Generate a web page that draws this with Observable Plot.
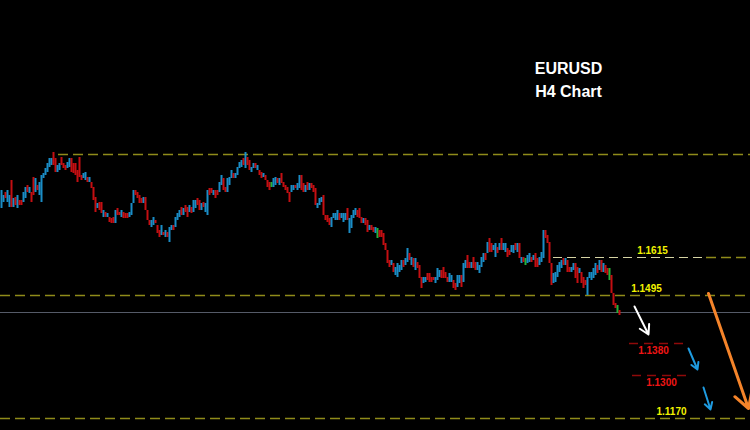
<!DOCTYPE html>
<html><head><meta charset="utf-8">
<script src="https://cdn.jsdelivr.net/npm/d3@7"></script>
<script src="https://cdn.jsdelivr.net/npm/@observablehq/plot@0.6"></script>
<style>html,body{margin:0;padding:0;background:#000;}#chart{width:750px;height:430px;overflow:hidden;}</style>
</head><body><div id="chart"></div>
<script>
// H4 candle ranges (high / low), oldest first
const highs = [
1.1816,1.1801,1.1810,1.1816,1.1801,1.1846,1.1792,1.1795,1.1801,1.1786,
1.1786,1.1810,1.1825,1.1831,1.1825,1.1810,1.1855,1.1852,1.1831,1.1840,
1.1861,1.1867,1.1882,1.1897,1.1912,1.1912,1.1930,1.1912,1.1891,1.1897,
1.1915,1.1897,1.1891,1.1900,1.1912,1.1912,1.1897,1.1897,1.1876,1.1915,
1.1861,1.1867,1.1870,1.1855,1.1855,1.1840,1.1825,1.1795,1.1777,1.1780,
1.1780,1.1756,1.1750,1.1747,1.1735,1.1732,1.1735,1.1756,1.1762,1.1750,
1.1756,1.1750,1.1747,1.1747,1.1750,1.1777,1.1816,1.1816,1.1810,1.1801,
1.1792,1.1795,1.1795,1.1756,1.1726,1.1726,1.1735,1.1726,1.1711,1.1696,
1.1711,1.1690,1.1696,1.1690,1.1705,1.1711,1.1711,1.1735,1.1747,1.1756,
1.1765,1.1762,1.1771,1.1765,1.1771,1.1765,1.1786,1.1786,1.1792,1.1786,
1.1777,1.1780,1.1777,1.1816,1.1822,1.1822,1.1816,1.1816,1.1816,1.1840,
1.1861,1.1852,1.1825,1.1852,1.1855,1.1876,1.1867,1.1867,1.1885,1.1900,
1.1906,1.1912,1.1930,1.1915,1.1906,1.1885,1.1897,1.1897,1.1891,1.1876,
1.1870,1.1867,1.1861,1.1846,1.1840,1.1840,1.1852,1.1855,1.1852,1.1852,
1.1867,1.1840,1.1831,1.1825,1.1810,1.1831,1.1831,1.1831,1.1837,1.1861,
1.1861,1.1837,1.1831,1.1840,1.1837,1.1837,1.1831,1.1822,1.1777,1.1792,
1.1795,1.1801,1.1741,1.1741,1.1732,1.1735,1.1747,1.1747,1.1756,1.1747,
1.1747,1.1747,1.1747,1.1762,1.1732,1.1741,1.1756,1.1762,1.1756,1.1762,
1.1735,1.1732,1.1732,1.1726,1.1711,1.1711,1.1705,1.1705,1.1702,1.1696,
1.1696,1.1687,1.1657,1.1636,1.1606,1.1606,1.1597,1.1585,1.1597,1.1591,
1.1606,1.1606,1.1612,1.1642,1.1627,1.1615,1.1612,1.1612,1.1600,1.1591,
1.1555,1.1555,1.1555,1.1567,1.1567,1.1555,1.1555,1.1555,1.1582,1.1576,
1.1576,1.1585,1.1570,1.1555,1.1567,1.1561,1.1546,1.1537,1.1561,1.1561,
1.1561,1.1597,1.1606,1.1621,1.1600,1.1600,1.1615,1.1600,1.1600,1.1591,
1.1615,1.1627,1.1627,1.1660,1.1672,1.1657,1.1651,1.1657,1.1645,1.1657,
1.1672,1.1657,1.1657,1.1642,1.1636,1.1651,1.1651,1.1657,1.1657,1.1657,
1.1615,1.1615,1.1612,1.1621,1.1627,1.1615,1.1621,1.1627,1.1612,1.1615,
1.1630,1.1696,1.1696,1.1681,1.1660,1.1597,1.1567,1.1570,1.1591,1.1600,
1.1606,1.1612,1.1612,1.1606,1.1585,1.1585,1.1597,1.1597,1.1585,1.1582,
1.1570,1.1555,1.1546,1.1555,1.1570,1.1570,1.1582,1.1597,1.1591,1.1606,
1.1606,1.1597,1.1591,1.1582,1.1582,1.1561,1.1507,1.1477,1.1471,1.1456
];
const lows = [
1.1762,1.1780,1.1792,1.1780,1.1765,1.1765,1.1765,1.1771,1.1762,1.1771,
1.1771,1.1780,1.1792,1.1810,1.1807,1.1780,1.1801,1.1810,1.1816,1.1801,
1.1780,1.1852,1.1861,1.1870,1.1885,1.1891,1.1891,1.1870,1.1870,1.1876,
1.1891,1.1882,1.1876,1.1882,1.1885,1.1870,1.1867,1.1861,1.1840,1.1855,
1.1846,1.1852,1.1846,1.1840,1.1840,1.1822,1.1786,1.1750,1.1762,1.1756,
1.1747,1.1735,1.1735,1.1735,1.1720,1.1717,1.1717,1.1717,1.1741,1.1741,
1.1735,1.1732,1.1732,1.1732,1.1735,1.1741,1.1777,1.1801,1.1792,1.1777,
1.1777,1.1777,1.1756,1.1726,1.1711,1.1705,1.1711,1.1717,1.1687,1.1675,
1.1681,1.1681,1.1675,1.1675,1.1660,1.1696,1.1696,1.1705,1.1726,1.1735,
1.1741,1.1741,1.1750,1.1735,1.1750,1.1747,1.1750,1.1762,1.1771,1.1756,
1.1756,1.1765,1.1750,1.1741,1.1801,1.1807,1.1801,1.1792,1.1801,1.1810,
1.1831,1.1816,1.1810,1.1810,1.1831,1.1852,1.1852,1.1852,1.1861,1.1882,
1.1885,1.1891,1.1882,1.1891,1.1876,1.1870,1.1882,1.1882,1.1876,1.1861,
1.1852,1.1855,1.1846,1.1825,1.1816,1.1825,1.1825,1.1831,1.1837,1.1831,
1.1837,1.1825,1.1816,1.1807,1.1780,1.1810,1.1816,1.1822,1.1816,1.1822,
1.1816,1.1810,1.1810,1.1816,1.1816,1.1822,1.1810,1.1771,1.1762,1.1771,
1.1780,1.1741,1.1726,1.1720,1.1711,1.1705,1.1732,1.1726,1.1726,1.1726,
1.1732,1.1720,1.1726,1.1726,1.1687,1.1702,1.1732,1.1741,1.1735,1.1732,
1.1717,1.1717,1.1711,1.1690,1.1696,1.1696,1.1690,1.1687,1.1672,1.1675,
1.1675,1.1651,1.1636,1.1597,1.1585,1.1591,1.1570,1.1561,1.1555,1.1570,
1.1576,1.1585,1.1591,1.1600,1.1606,1.1591,1.1585,1.1576,1.1582,1.1552,
1.1522,1.1537,1.1540,1.1546,1.1540,1.1540,1.1546,1.1537,1.1546,1.1555,
1.1552,1.1552,1.1552,1.1540,1.1540,1.1540,1.1522,1.1516,1.1525,1.1537,
1.1525,1.1540,1.1582,1.1582,1.1582,1.1582,1.1582,1.1576,1.1576,1.1567,
1.1585,1.1600,1.1606,1.1627,1.1630,1.1630,1.1636,1.1615,1.1627,1.1636,
1.1636,1.1636,1.1630,1.1615,1.1621,1.1630,1.1627,1.1636,1.1630,1.1612,
1.1597,1.1600,1.1591,1.1597,1.1600,1.1600,1.1606,1.1585,1.1585,1.1591,
1.1600,1.1612,1.1672,1.1657,1.1597,1.1531,1.1537,1.1540,1.1555,1.1570,
1.1582,1.1591,1.1591,1.1570,1.1570,1.1570,1.1576,1.1552,1.1537,1.1567,
1.1537,1.1522,1.1531,1.1501,1.1552,1.1546,1.1552,1.1561,1.1567,1.1576,
1.1570,1.1570,1.1567,1.1561,1.1546,1.1507,1.1471,1.1462,1.1447,1.1441
];
// u = bullish (blue), d = bearish (red), n = doji (green)
const dirs = ("uuduududud duududdudu uuuuuudduu ddduuddddd duududddud dududddudd uddduuuddd duddduuddd ududuuduuu dudduduudd " +
  "uduudduddu udduuuduuu ududduudud dudddnuudu ddddduuduu ddududdduu udddduuuud uuuduuuudd dudduddund ddddduduuu " +
  "uduudududd duudddduuu dddduudduu duuddudduu uududduudu duudduudud udnuududdu uudddduuuu ududduuddu ddduuuuudu duddndddnd")
  .replace(/ /g, "").split("");

// Horizontal levels (as drawn on the chart)
const levelTop = 1.1924, level1615 = 1.1615, level1495 = 1.1501, levelNow = 1.1450,
      level1380 = 1.1357, level1300 = 1.1261, level1170 = 1.1132;
const labelTexts  = ["1.1615", "1.1495", "1.1380", "1.1300", "1.1170"];
const labelPrices = [1.1636, 1.1522, 1.1336, 1.1240, 1.1153];
const labelBars   = [326, 323, 326.5, 330.5, 335.5];
const titleLines  = ["EURUSD", "H4 Chart"];
const titlePrices = [1.2182, 1.2113];
// projected move arrows (bar index / price)
const arrowBar1   = [317, 344, 351.5, 354];
const arrowPrice1 = [1.1468, 1.1342, 1.1225, 1.1507];
const arrowBar2   = [324, 348.5, 355, 374];
const arrowPrice2 = [1.1384, 1.1279, 1.1159, 1.1162];
const arrowColors = ["#ffffff", "#1e9be0", "#1e9be0", "#f5842a"];
const arrowWidths = [2, 2, 2, 3];

const candles = highs.map((h, i) => ({x: i + 0.5, hi: h, lo: lows[i], dir: dirs[i]}));
const dirColor = {u: "#1a8dc6", d: "#c40f12", n: "#22b33a"};
const olive = "#8f8b1a";
const arrows = arrowBar1.map((b, i) => ({x1: b, y1: arrowPrice1[i], x2: arrowBar2[i], y2: arrowPrice2[i], c: arrowColors[i], w: arrowWidths[i]}));

const chart = Plot.plot({
  width: 750, height: 430, margin: 0,
  style: {background: "#000", overflow: "hidden"},
  x: {domain: [0, 375], axis: null},
  y: {domain: [1.1096, 1.2386], axis: null},
  marks: [
    Plot.ruleY([levelTop], {x1: 29, x2: 375, stroke: olive, strokeWidth: 1.6, strokeDasharray: "10,5"}),
    Plot.ruleY([level1615], {x1: 276.5, x2: 352, stroke: "#d6d4a4", strokeWidth: 1.2, strokeDasharray: "9,5"}),
    Plot.ruleY([level1615], {x1: 353, x2: 375, stroke: olive, strokeWidth: 1.6, strokeDasharray: "10,5"}),
    Plot.ruleY([level1495], {x1: 0, x2: 375, stroke: olive, strokeWidth: 1.6, strokeDasharray: "10,5"}),
    Plot.ruleY([levelNow], {x1: 0, x2: 375, stroke: "#555b68", strokeWidth: 1.2}),
    Plot.ruleY([level1380], {x1: 314.5, x2: 343, stroke: "#8f0a0a", strokeWidth: 1.5, strokeDasharray: "9,6"}),
    Plot.ruleY([level1300], {x1: 316, x2: 344, stroke: "#8f0a0a", strokeWidth: 1.5, strokeDasharray: "9,6"}),
    Plot.ruleY([level1170], {x1: 0, x2: 375, stroke: olive, strokeWidth: 1.6, strokeDasharray: "10,5"}),
    Plot.ruleX(candles, {x: "x", y1: "lo", y2: "hi", stroke: d => dirColor[d.dir], strokeWidth: 2}),
    ...arrows.map(a => Plot.arrow([a], {x1: "x1", y1: "y1", x2: "x2", y2: "y2", stroke: "c", strokeWidth: a.w, headLength: 9, bend: 0})),
    Plot.text(labelTexts, {x: labelBars, y: labelPrices, text: d => d,
      fill: (d, i) => (i === 2 || i === 3) ? "#f01515" : "#f2f200",
      fontSize: 10, fontWeight: "bold", fontFamily: "Liberation Sans, Arial, sans-serif"}),
    Plot.text(titleLines, {x: 284, y: titlePrices, text: d => d, fill: "#ffffff",
      fontSize: 16, fontWeight: "bold", fontFamily: "Liberation Sans, Arial, sans-serif"})
  ]
});
document.getElementById("chart").append(chart);
</script>
</body></html>
